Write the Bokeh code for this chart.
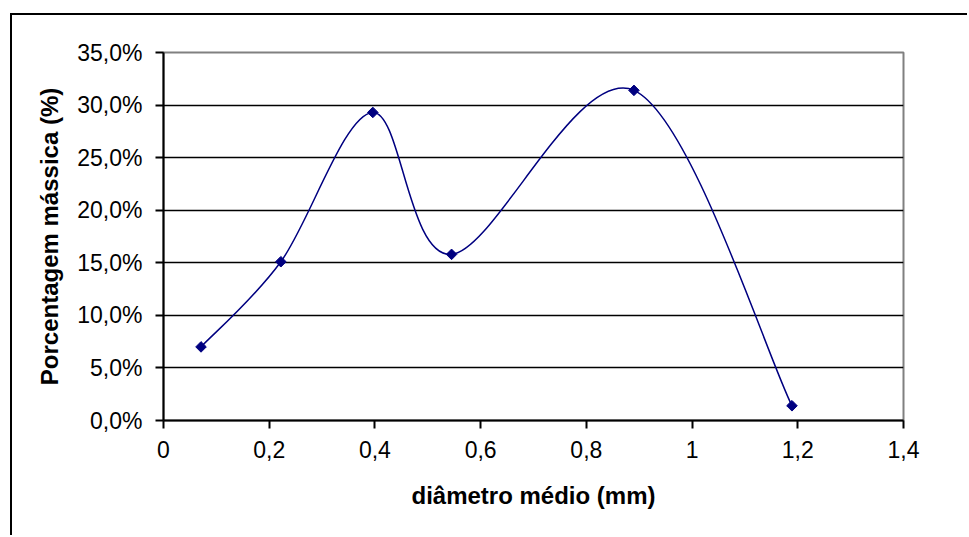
from bokeh.plotting import figure
from bokeh.models import FixedTicker, Range1d
from bokeh.embed import file_html
from bokeh.resources import INLINE
import numpy as np

# ---- data ----
diametro = [0.071, 0.222, 0.396, 0.545, 0.890, 1.189]
porcentagem = [7.0, 15.1, 29.3, 15.8, 31.4, 1.4]

x_ticks = [0.0, 0.2, 0.4, 0.6, 0.8, 1.0, 1.2, 1.4]
x_tick_labels = ["0", "0,2", "0,4", "0,6", "0,8", "1", "1,2", "1,4"]
y_ticks = [0, 5, 10, 15, 20, 25, 30, 35]
y_tick_labels = ["0,0%", "5,0%", "10,0%", "15,0%", "20,0%", "25,0%", "30,0%", "35,0%"]

x_title = "diâmetro médio (mm)"
y_title = "Porcentagem mássica (%)"

FONT = "Liberation Sans"
NAVY = "#000080"

p = figure(width=957, height=522, output_backend="svg", toolbar_location=None,
           x_range=Range1d(0, 1.4), y_range=Range1d(0, 35),
           min_border_left=151, min_border_right=66, min_border_top=37, min_border_bottom=117)
p.styles = {"border-top": "2px solid #000000", "border-left": "2px solid #000000"}
p.margin = (13, 0, 0, 10)

p.background_fill_color = "white"
p.border_fill_color = "white"
p.outline_line_color = "#808080"
p.outline_line_width = 2

# grid
p.xgrid.visible = False
p.ygrid.ticker = FixedTicker(ticks=y_ticks[1:-1])
p.ygrid.grid_line_color = "#000000"
p.ygrid.grid_line_width = 1.5

# axes
for ax in (p.xaxis[0], p.yaxis[0]):
    ax.axis_line_color = "#000000"
    ax.axis_line_width = 2
    ax.major_tick_line_color = "#000000"
    ax.major_tick_line_width = 2
    ax.major_tick_in = 0
    ax.major_tick_out = 8
    ax.minor_tick_line_color = None
    ax.major_label_text_font = FONT
    ax.major_label_text_font_size = "23px"
    ax.major_label_text_color = "#000000"
    ax.axis_label_text_font = FONT
    ax.axis_label_text_font_size = "24px"
    ax.axis_label_text_font_style = "bold"
    ax.axis_label_text_color = "#000000"

p.xaxis.ticker = FixedTicker(ticks=x_ticks)
p.yaxis.ticker = FixedTicker(ticks=y_ticks)
p.xaxis.major_label_overrides = {float(t): l for t, l in zip(x_ticks, x_tick_labels)}
p.yaxis.major_label_overrides = {float(t): l for t, l in zip(y_ticks, y_tick_labels)}
p.xaxis.axis_label = x_title
p.yaxis.axis_label = y_title
p.xaxis.major_label_standoff = 12
p.yaxis.major_label_standoff = 13
p.xaxis.axis_label_standoff = 21
p.yaxis.axis_label_standoff = 11

# smoothed line (Catmull-Rom bezier through the data points)
xs = np.array(diametro)
ys = np.array(porcentagem)
xp = np.concatenate([[xs[0]], xs, [xs[-1]]])
yp = np.concatenate([[ys[0]], ys, [ys[-1]]])
n = len(xs)
x0 = xs[:-1]; y0 = ys[:-1]; x1 = xs[1:]; y1 = ys[1:]
cx0 = xs[:-1] + (xp[2:n + 1] - xp[0:n - 1]) / 6.0
cy0 = ys[:-1] + (yp[2:n + 1] - yp[0:n - 1]) / 6.0
cx1 = xs[1:] - (xp[3:n + 2] - xp[1:n]) / 6.0
cy1 = ys[1:] - (yp[3:n + 2] - yp[1:n]) / 6.0
p.bezier(x0=x0, y0=y0, x1=x1, y1=y1, cx0=cx0, cy0=cy0, cx1=cx1, cy1=cy1,
         line_color=NAVY, line_width=1.5)

p.scatter(diametro, porcentagem, marker="square", angle=np.pi / 4, size=7.5,
          fill_color=NAVY, line_color=NAVY)

open("out.html", "w").write(file_html(p, INLINE))
